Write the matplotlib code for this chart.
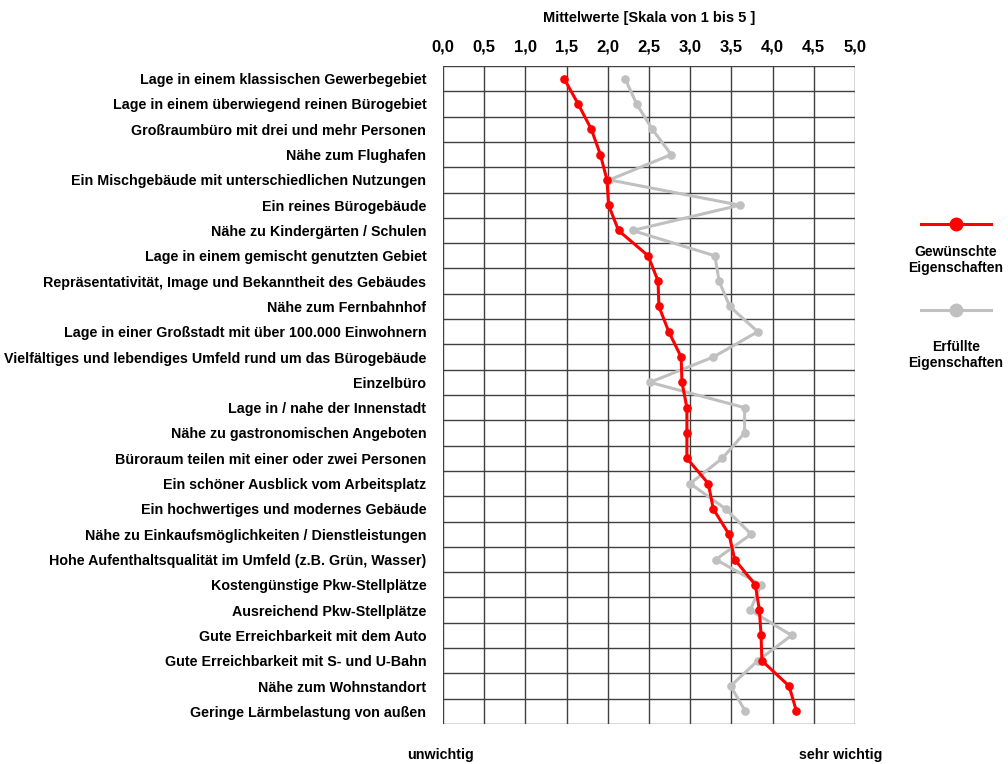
import matplotlib
matplotlib.use("Agg")
import matplotlib.pyplot as plt
from matplotlib.lines import Line2D

plt.rcParams['font.family'] = ['Liberation Sans', 'DejaVu Sans']

categories = [
    "Lage in einem klassischen Gewerbegebiet",
    "Lage in einem überwiegend reinen Bürogebiet",
    "Großraumbüro mit drei und mehr Personen",
    "Nähe zum Flughafen",
    "Ein Mischgebäude mit unterschiedlichen Nutzungen",
    "Ein reines Bürogebäude",
    "Nähe zu Kindergärten / Schulen",
    "Lage in einem gemischt genutzten Gebiet",
    "Repräsentativität, Image und Bekanntheit des Gebäudes",
    "Nähe zum Fernbahnhof",
    "Lage in einer Großstadt mit über 100.000 Einwohnern",
    "Vielfältiges und lebendiges Umfeld rund um das Bürogebäude",
    "Einzelbüro",
    "Lage in / nahe der Innenstadt",
    "Nähe zu gastronomischen Angeboten",
    "Büroraum teilen mit einer oder zwei Personen",
    "Ein schöner Ausblick vom Arbeitsplatz",
    "Ein hochwertiges und modernes Gebäude",
    "Nähe zu Einkaufsmöglichkeiten / Dienstleistungen",
    "Hohe Aufenthaltsqualität im Umfeld (z.B. Grün, Wasser)",
    "Kostengünstige Pkw-Stellplätze",
    "Ausreichend Pkw-Stellplätze",
    "Gute Erreichbarkeit mit dem Auto",
    "Gute Erreichbarkeit mit S- und U-Bahn",
    "Nähe zum Wohnstandort",
    "Geringe Lärmbelastung von außen",
]

gewuenscht = [1.47, 1.64, 1.80, 1.91, 1.99, 2.01, 2.13, 2.49, 2.61, 2.62,
              2.74, 2.89, 2.90, 2.96, 2.96, 2.96, 3.22, 3.28, 3.47, 3.54,
              3.79, 3.84, 3.86, 3.87, 4.20, 4.29]
erfuellt = [2.21, 2.35, 2.54, 2.77, 2.02, 3.60, 2.30, 3.30, 3.35, 3.48,
            3.82, 3.28, 2.51, 3.66, 3.66, 3.39, 3.00, 3.43, 3.74, 3.31,
            3.86, 3.73, 4.23, 3.82, 3.49, 3.67]

xticks = [0, 0.5, 1, 1.5, 2, 2.5, 3, 3.5, 4, 4.5, 5]
xticklabels = ["0,0", "0,5", "1,0", "1,5", "2,0", "2,5", "3,0", "3,5", "4,0", "4,5", "5,0"]

W, H = 1008, 764
fig = plt.figure(figsize=(W / 100, H / 100), dpi=100)
ax = fig.add_axes([443 / W, 1 - 724 / H, (855 - 443) / W, (724 - 66) / H])

n = len(categories)
ypos = list(range(n))

red = "#ff0000"
gray = "#c0c0c0"
ax.plot(erfuellt, ypos, color=gray, lw=2.2, marker='o', ms=5.2, zorder=3)
ax.plot(gewuenscht, ypos, color=red, lw=2.2, marker='o', ms=5.2, zorder=4)

ax.set_xlim(0, 5)
ax.set_ylim(n - 0.5, -0.5)
ax.set_xticks(xticks)
ax.set_xticklabels(xticklabels, fontsize=12, fontweight='bold')
ax.xaxis.tick_top()
ax.tick_params(axis='x', length=0, pad=8)
ax.set_yticks(ypos)
ax.set_yticklabels(categories, fontsize=10.25, fontweight='bold')
ax.tick_params(axis='y', length=0, pad=12)

for v in xticks:
    ax.axvline(v, color="#404040", lw=1.0, zorder=1)
for i in range(n + 1):
    ax.axhline(i - 0.5, color="#404040", lw=1.0, zorder=1)
for s in ax.spines.values():
    s.set_visible(False)

fig.text(649 / W, 1 - 18 / H, "Mittelwerte [Skala von 1 bis 5 ]", ha='center', va='center',
         fontsize=10.5, fontweight='bold')
fig.text(441 / W, 1 - 755 / H, "unwichtig", ha='center', va='center', fontsize=10.25, fontweight='bold')
fig.text(841 / W, 1 - 755 / H, "sehr wichtig", ha='center', va='center', fontsize=10.25, fontweight='bold')

# legend
lx0, lx1, lxm = 921 / W, 991 / W, 956 / W
for yl, col, label, yt in [(224, red, "Gewünschte\nEigenschaften", 260),
                           (310, gray, "Erfüllte\nEigenschaften", 355)]:
    fig.add_artist(Line2D([lx0, lx1], [1 - yl / H, 1 - yl / H], color=col, lw=2.2,
                          transform=fig.transFigure))
    fig.add_artist(Line2D([lxm], [1 - yl / H], color=col, marker='o', ms=9,
                          transform=fig.transFigure))
    fig.text(lxm, 1 - yt / H, label, ha='center', va='center', fontsize=10,
             fontweight='bold', linespacing=1.2)

fig.savefig("out.png", dpi=100)
